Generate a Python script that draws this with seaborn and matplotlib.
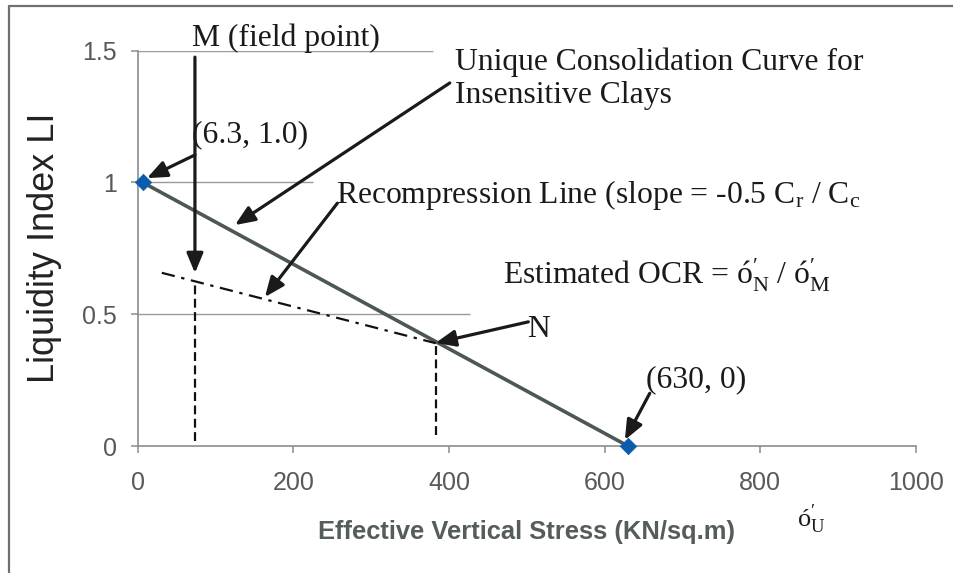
import matplotlib
matplotlib.use("Agg")
import matplotlib.pyplot as plt
import seaborn as sns
import pandas as pd
from matplotlib.lines import Line2D
from matplotlib.ticker import FuncFormatter, FixedLocator

# ---------------- data ----------------
unique_stress = [6.3, 630.0]          # unique consolidation curve end points
unique_li = [1.0, 0.0]
recomp_stress = [31.0, 383.0]          # recompression line
recomp_li = [0.657, 0.39]
m_stress = 74.0                        # field point M
m_li_span = [0.02, 0.627]
n_stress = 383.0                       # point N
n_li_span = [0.04, 0.39]
x_ticks = [0, 200, 400, 600, 800, 1000]
y_ticks = [0, 0.5, 1.0, 1.5]

# annotation arrows: (start, tip) in data units
arrows = [
    ((73.6, 1.475), (73.6, 0.656)),
    ((73.6, 1.104), (12.0, 1.016)),
    ((401.0, 1.377), (125.0, 0.838)),
    ((256.6, 0.921), (163.5, 0.565)),
    ((502.0, 0.471), (382.8, 0.391)),
    ((658.0, 0.200), (626.0, 0.023)),
]

sns.set_theme(style="white")
plt.rcParams["font.family"] = ["Liberation Sans", "DejaVu Sans"]
plt.rcParams["mathtext.fontset"] = "custom"
plt.rcParams["mathtext.rm"] = "Liberation Serif"
plt.rcParams["mathtext.it"] = "Liberation Serif:italic"
plt.rcParams["mathtext.bf"] = "Liberation Serif:bold"

fig = plt.figure(figsize=(9.54, 5.73), dpi=100)
ax = fig.add_axes([0.1443, 0.2216, 0.8158, 0.6902])

# partial grid lines (parts hidden behind text boxes in the original)
ax.hlines([0.5, 1.0, 1.5], 0, [427, 225, 379], colors="#9a9a9a", lw=1.0, zorder=0)

df_u = pd.DataFrame({"stress": unique_stress, "li": unique_li})
sns.lineplot(data=df_u, x="stress", y="li", color="#4d5855", lw=2.6, ax=ax, zorder=2)
sns.scatterplot(data=df_u, x="stress", y="li", marker="D", s=70, color="#0b5cad",
                edgecolor="#0b5cad", linewidth=0.5, ax=ax, zorder=6, clip_on=False)

df_r = pd.DataFrame({"stress": recomp_stress, "li": recomp_li})
sns.lineplot(data=df_r, x="stress", y="li", color="#111111", lw=1.6,
             linestyle=(0, (6, 3, 1.5, 3)), ax=ax, zorder=3)

ax.vlines([m_stress, n_stress], [m_li_span[0], n_li_span[0]], [m_li_span[1], n_li_span[1]],
          colors="#111111", lw=1.6, linestyles=[(0, (4, 2))], zorder=3)

for (start, tip) in arrows:
    ax.annotate("", xy=tip, xytext=start,
                arrowprops=dict(arrowstyle="-|>,head_length=0.6,head_width=0.25",
                                mutation_scale=20, lw=2.3, color="#1a1a1a",
                                shrinkA=0, shrinkB=0), zorder=7)

serif = ["Liberation Serif", "DejaVu Serif"]
tkw = dict(family=serif, fontsize=22.8, color="#1a1a1a", va="baseline", ha="left", zorder=8)
ax.text(69.7, 1.517, "M (field point)", clip_on=False, **tkw)
ax.text(70.4, 1.153, "(6.3, 1.0)", **tkw)
ax.text(407.6, 1.426, "Unique Consolidation Curve for", clip_on=False, **tkw)
ax.text(407.6, 1.301, "Insensitive Clays", **tkw)
ax.text(254.3, 0.921, r"Recompression Line (slope = -0.5 C$_{\rm r}$ / C$_{\rm c}$", **tkw)
ax.text(470.0, 0.611, r"Estimated OCR = ó$^{\prime}_{\rm N}$ / ó$^{\prime}_{\rm M}$", **tkw)
ax.text(499.8, 0.413, "N", **tkw)
ax.text(653.5, 0.224, "(630, 0)", **tkw)
ax.text(847.0, -0.307, r"ó$^{\prime}_{\rm U}$", clip_on=False,
        **{**tkw, "fontsize": 19})

ax.set_xlim(0, 1000)
ax.set_ylim(0, 1.5)
ax.xaxis.set_major_locator(FixedLocator(x_ticks))
ax.yaxis.set_major_locator(FixedLocator(y_ticks))
ax.yaxis.set_major_formatter(FuncFormatter(lambda v, p: f"{v:g}"))
ax.xaxis.set_major_formatter(FuncFormatter(lambda v, p: f"{v:g}"))

for s in ["top", "right"]:
    ax.spines[s].set_visible(False)
for s in ["left", "bottom"]:
    ax.spines[s].set_color("#8c8c8c")
    ax.spines[s].set_linewidth(1.2)

ax.tick_params(axis="both", which="major", bottom=True, left=True, direction="out",
               length=5, width=1.1, color="#8c8c8c", labelsize=18, labelcolor="#595959")
ax.tick_params(axis="x", pad=13)
ax.tick_params(axis="y", pad=10)

ax.set_xlabel("Effective Vertical Stress (KN/sq.m)", fontsize=18.4, fontweight="bold",
              color="#555d5a", va="top")
ax.xaxis.set_label_coords(0.5, -0.188)
ax.set_ylabel("Liquidity Index LI", fontsize=26, color="#222222")
ax.yaxis.set_label_coords(-0.097, 0.5)

# outer chart-area frame (left and top edges visible)
fig.add_artist(Line2D([9 / 954, 9 / 954], [0, 1 - 6 / 573], transform=fig.transFigure,
                      color="#707070", lw=1.6))
fig.add_artist(Line2D([9 / 954, 1], [1 - 6 / 573, 1 - 6 / 573], transform=fig.transFigure,
                      color="#707070", lw=1.6))

fig.savefig("out.png", dpi=100, facecolor="white")
